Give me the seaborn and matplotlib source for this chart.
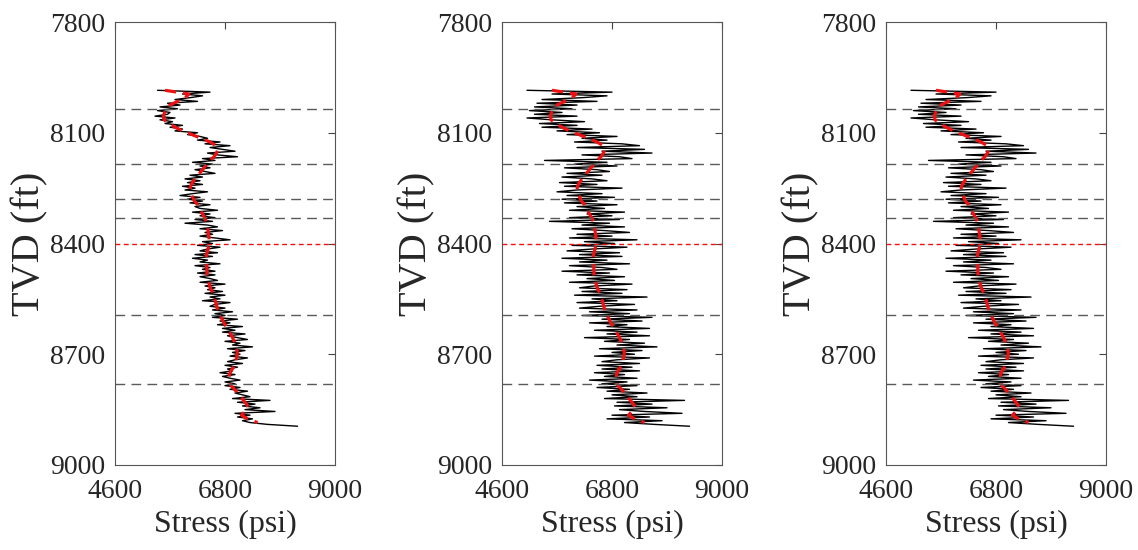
import numpy as np
import pandas as pd
import matplotlib
matplotlib.use("Agg")
import matplotlib.pyplot as plt
import seaborn as sns

# Depth sampling of the stress logs (ft, TVD)
log_depth = np.arange(7985, 8896, 5)
trend_depth = np.arange(7985, 8886, 10)

# Calculated minimum horizontal stress, low-noise log (psi)
stress_low_noise = [
    5450, 6500, 5950, 6350, 6100, 5800, 6250, 5650, 5900, 5500,
    5850, 5450, 5700, 5650, 5400, 5800, 5500, 5750, 5600, 5950,
    5700, 5950, 5800, 6250, 6050, 6300, 6450, 6250, 6700, 6400,
    6900, 6500, 6750, 7000, 6450, 6650, 7050, 6350, 6600, 6150,
    6550, 6300, 6500, 6200, 6400, 6600, 6100, 6350, 6000, 6300,
    6050, 6350, 5950, 6200, 6000, 6450, 6150, 5900, 6300, 6050,
    6350, 6100, 6500, 6200, 6300, 6650, 6150, 6500, 6300, 6600,
    6200, 6550, 6000, 6450, 6650, 6300, 6750, 6400, 6550, 6300,
    6600, 6900, 6350, 6550, 6250, 6700, 6450, 6300, 6650, 6200,
    6550, 6150, 6450, 6300, 6700, 6200, 6500, 6350, 6600, 6250,
    6600, 6300, 6500, 6650, 6300, 6800, 6400, 6600, 6450, 6750,
    6400, 6800, 6500, 6700, 6350, 6900, 6600, 6500, 6800, 6550,
    6950, 6600, 6800, 6550, 7050, 6700, 6900, 6650, 7150, 6750,
    7000, 6750, 7200, 6850, 7050, 7250, 6800, 7100, 6950, 7350,
    6850, 7200, 6950, 7100, 6900, 7250, 7000, 6850, 7150, 6800,
    7050, 6850, 6950, 6700, 7000, 6750, 6900, 7100, 6800, 7000,
    6800, 7100, 6900, 7250, 7000, 7150, 7300, 6950, 7700, 7050,
    7400, 7150, 7500, 7200, 7800, 7000, 7300, 7050, 7350, 7150,
    7300, 7650, 8250,
]

# Calculated minimum horizontal stress, high-noise log (psi)
stress_high_noise = [
    5100, 6800, 5600, 6700, 6200, 5400, 6500, 5300, 6100, 5250,
    6000, 5150, 5800, 5250, 6100, 5100, 5600, 6250, 5350, 6100,
    5400, 6400, 5700, 6550, 5900, 6900, 6200, 6700, 6050, 7000,
    7350, 6100, 7450, 6600, 7600, 6200, 6950, 7200, 5450, 6700,
    6050, 6900, 5850, 6500, 6750, 5900, 6600, 5800, 6400, 6700,
    5750, 6500, 5850, 7000, 6100, 5700, 6600, 5900, 6850, 5800,
    6500, 5850, 6900, 6100, 6650, 5950, 7050, 6300, 6800, 5950,
    6950, 5550, 6750, 6200, 7050, 6000, 6650, 7150, 6100, 6800,
    5950, 7300, 6250, 6850, 6000, 7100, 6400, 5900, 6950, 6150,
    7000, 5800, 6700, 6150, 7150, 5950, 6600, 6900, 5800, 6750,
    6100, 7050, 6300, 6850, 5950, 7200, 6450, 6150, 7100, 6200,
    7000, 6050, 7500, 6400, 6900, 6100, 7250, 6550, 6150, 7300,
    6350, 7150, 6200, 7600, 6600, 7400, 6350, 7100, 6700, 7550,
    6450, 7300, 6700, 7550, 6250, 7150, 6650, 7450, 6900, 7700,
    6550, 7400, 6800, 7250, 6450, 7550, 6900, 6600, 7350, 6500,
    7200, 6600, 7350, 6450, 7050, 6650, 7300, 6350, 7100, 6600,
    7300, 6500, 7150, 6700, 7500, 6800, 7300, 6650, 8250, 6900,
    7600, 6850, 7900, 6950, 7450, 8200, 6800, 7550, 6700, 7800,
    7050, 7650, 8350,
]

# Smoothed stress trend (psi)
stress_trend = [
    5600, 6080, 6000, 5850, 5700, 5620, 5590, 5570, 5580, 5680,
    5800, 5950, 6140, 6320, 6500, 6620, 6660, 6630, 6580, 6500,
    6440, 6380, 6320, 6260, 6200, 6150, 6110, 6100, 6120, 6155,
    6190, 6250, 6290, 6330, 6370, 6410, 6430, 6450, 6460, 6470,
    6480, 6485, 6480, 6460, 6440, 6425, 6425, 6430, 6435, 6440,
    6440, 6455, 6475, 6495, 6520, 6560, 6585, 6605, 6625, 6645,
    6675, 6705, 6740, 6780, 6820, 6870, 6910, 6950, 6985, 7010,
    7030, 7045, 7040, 7020, 7000, 6970, 6920, 6890, 6880, 6890,
    6920, 6990, 7050, 7110, 7170, 7230, 7260, 7200, 7130, 7250,
    7450,
]

# Formation boundaries and target depth (ft)
zone_tops = [8035, 8185, 8280, 8330, 8595, 8780]
target_depth = 8400

panel_logs = [stress_low_noise, stress_high_noise, stress_high_noise]

sns.set_style("white")
plt.rcParams["font.family"] = ["Liberation Serif", "DejaVu Serif"]

fig = plt.figure(figsize=(11.38, 5.5), dpi=100)
W, H = 1138.0, 550.0
lefts = [115, 502, 886]
box_w, box_top, box_bot = 220, 22, 465

trend_df = pd.DataFrame({"depth": trend_depth, "stress": stress_trend})

for left, log in zip(lefts, panel_logs):
    ax = fig.add_axes([left / W, 1 - box_bot / H, box_w / W, (box_bot - box_top) / H])
    log_df = pd.DataFrame({"depth": log_depth, "stress": log})
    sns.lineplot(data=log_df, x="stress", y="depth", sort=False, estimator=None,
                 orient="y", color="black", linewidth=1.0, ax=ax)
    sns.lineplot(data=trend_df, x="stress", y="depth", sort=False, estimator=None,
                 orient="y", color="#ee1111", linewidth=2.3, ax=ax,
                 linestyle=(0, (3.5, 2.2)))
    for d in zone_tops:
        ax.axhline(d, color="#5a5a5a", linewidth=1.0, linestyle=(0, (7, 4.5)))
    ax.axhline(target_depth, color="#ee1111", linewidth=1.0, linestyle=(0, (3.5, 2.5)))

    ax.set_xlim(4600, 9000)
    ax.set_ylim(9000, 7800)
    ax.set_xticks([4600, 6800, 9000])
    ax.set_yticks([7800, 8100, 8400, 8700, 9000])
    ax.tick_params(direction="in", top=True, right=True, length=5, width=0.8,
                   color="#444444", labelsize=20)
    ax.tick_params(axis="y", pad=7)
    ax.tick_params(axis="x", pad=10)
    for s in ax.spines.values():
        s.set_color("#555555")
        s.set_linewidth(0.8)
    ax.set_xlabel("Stress (psi)", fontsize=23, labelpad=4)
    ax.set_ylabel("TVD (ft)", fontsize=29, labelpad=1)

fig.savefig("out.png", dpi=100)
